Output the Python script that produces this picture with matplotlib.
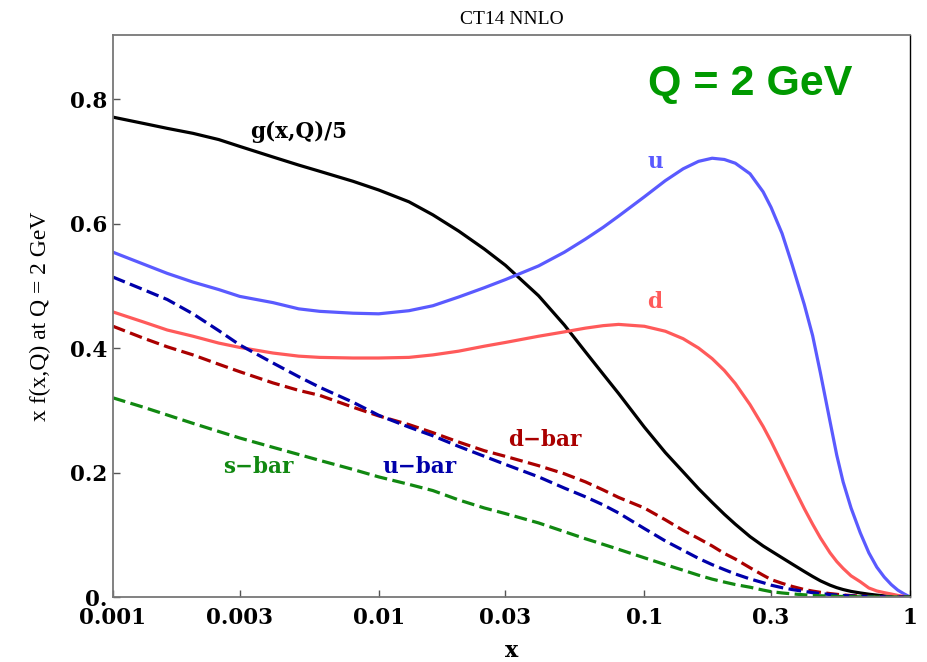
import numpy as np
import matplotlib
matplotlib.use('Agg')
import matplotlib.pyplot as plt

# x grid and curves (Q = 2 GeV)
xs = [0.001, 0.0013, 0.0016, 0.002, 0.0025, 0.003, 0.004, 0.005, 0.006, 0.008,
      0.01, 0.013, 0.016, 0.02, 0.025, 0.03, 0.04, 0.05, 0.06, 0.07,
      0.08, 0.1, 0.12, 0.14, 0.16, 0.18, 0.2, 0.22, 0.25, 0.28,
      0.3, 0.33, 0.36, 0.4, 0.43, 0.46, 0.5, 0.53, 0.56, 0.6,
      0.65, 0.7, 0.75, 0.8, 0.85, 0.9, 0.95, 1.0]

gluon5 = [0.771, 0.761, 0.753, 0.745, 0.735, 0.724, 0.707, 0.694, 0.684, 0.668,
          0.654, 0.635, 0.614, 0.588, 0.559, 0.533, 0.484, 0.437, 0.394, 0.358,
          0.327, 0.273, 0.232, 0.201, 0.174, 0.152, 0.133, 0.117, 0.097, 0.082,
          0.074, 0.063, 0.053, 0.041, 0.033, 0.026, 0.019, 0.015, 0.012, 0.009,
          0.0065, 0.0045, 0.003, 0.0018, 0.001, 0.0004, 0.0001, 0.0]
u = [0.554, 0.535, 0.520, 0.506, 0.494, 0.483, 0.473, 0.463, 0.459, 0.456,
     0.455, 0.460, 0.468, 0.482, 0.497, 0.510, 0.532, 0.554, 0.575, 0.594,
     0.612, 0.643, 0.669, 0.688, 0.700, 0.705, 0.703, 0.697, 0.680, 0.651,
     0.626, 0.584, 0.534, 0.470, 0.420, 0.360, 0.282, 0.228, 0.185, 0.143,
     0.103, 0.071, 0.048, 0.032, 0.020, 0.011, 0.005, 0.0]
d = [0.458, 0.442, 0.429, 0.419, 0.408, 0.401, 0.392, 0.387, 0.385, 0.384,
     0.384, 0.385, 0.389, 0.395, 0.403, 0.409, 0.419, 0.426, 0.432, 0.436,
     0.438, 0.435, 0.427, 0.415, 0.400, 0.383, 0.364, 0.343, 0.309, 0.274,
     0.250, 0.214, 0.181, 0.142, 0.117, 0.095, 0.071, 0.057, 0.046, 0.034,
     0.0245, 0.0145, 0.0097, 0.007, 0.0048, 0.0025, 0.001, 0.0]
ubar = [0.514, 0.494, 0.478, 0.455, 0.428, 0.405, 0.376, 0.354, 0.337, 0.313,
        0.292, 0.273, 0.259, 0.242, 0.226, 0.213, 0.193, 0.175, 0.161, 0.148,
        0.135, 0.110, 0.090, 0.075, 0.062, 0.052, 0.044, 0.037, 0.029, 0.023,
        0.019, 0.015, 0.012, 0.009, 0.007, 0.0055, 0.004, 0.003, 0.0024, 0.0017,
        0.0011, 0.0007, 0.0004, 0.0002, 0.0001, 0.0, 0.0, 0.0]
dbar = [0.435, 0.416, 0.402, 0.389, 0.374, 0.362, 0.344, 0.332, 0.324, 0.305,
        0.291, 0.277, 0.264, 0.249, 0.235, 0.226, 0.211, 0.198, 0.185, 0.172,
        0.160, 0.143, 0.124, 0.107, 0.094, 0.082, 0.070, 0.061, 0.047, 0.035,
        0.028, 0.022, 0.017, 0.012, 0.0095, 0.0075, 0.0055, 0.0043, 0.0033, 0.0023,
        0.0015, 0.0009, 0.0005, 0.0003, 0.0001, 0.0, 0.0, 0.0]
sbar = [0.320, 0.305, 0.2925, 0.279, 0.266, 0.2555, 0.2405, 0.229, 0.2195, 0.205,
        0.193, 0.181, 0.171, 0.156, 0.143, 0.134, 0.119, 0.105, 0.0936, 0.0846,
        0.0766, 0.063, 0.052, 0.043, 0.035, 0.0287, 0.024, 0.020, 0.0157, 0.0111,
        0.0086, 0.0065, 0.005, 0.0035, 0.0027, 0.002, 0.0014, 0.001, 0.0008, 0.0005,
        0.0003, 0.0002, 0.0001, 0.0, 0.0, 0.0, 0.0, 0.0]

xticks = [0.001, 0.003, 0.01, 0.03, 0.1, 0.3, 1]
xticklabels = ['0.001', '0.003', '0.01', '0.03', '0.1', '0.3', '1']
yticks = [0.0, 0.2, 0.4, 0.6, 0.8]
yticklabels = ['0.', '0.2', '0.4', '0.6', '0.8']

serif = ['Liberation Serif', 'DejaVu Serif']
boldserif = ['DejaVu Serif']

fig = plt.figure(figsize=(9.27, 6.62), dpi=100)
ax = fig.add_axes([113/927, 65/662, 797/927, 562/662])

lw = 2.3
ax.plot(xs, gluon5, color='black', lw=lw)
ax.plot(xs, u, color='#5a5aff', lw=lw)
ax.plot(xs, d, color='#ff5a5a', lw=lw)
ax.plot(xs, dbar, color='#aa0000', lw=lw, dashes=(4, 1.7))
ax.plot(xs, ubar, color='#0000aa', lw=lw, dashes=(4, 1.7))
ax.plot(xs, sbar, color='#118811', lw=lw, dashes=(4, 1.7))

ax.set_xscale('log')
ax.set_xlim(0.001, 1)
ax.set_ylim(0, 0.903)
ax.set_xticks(xticks)
ax.set_xticklabels(xticklabels)
ax.minorticks_off()
ax.set_yticks(yticks)
ax.set_yticklabels(yticklabels)
ax.tick_params(direction='in', length=5, width=1, color='#555555')
ax.tick_params(axis='x', pad=7)
ax.tick_params(axis='y', pad=4)
for lab in ax.get_xticklabels() + ax.get_yticklabels():
    lab.set_family(boldserif)
    lab.set_fontweight('bold')
    lab.set_fontsize(15.5)

for side in ['left', 'bottom', 'top']:
    ax.spines[side].set_color('#777777')
    ax.spines[side].set_linewidth(1.3)
ax.spines['right'].set_color('black')
ax.spines['right'].set_linewidth(1.0)

lab_kw = dict(family=boldserif, fontweight='bold', fontsize=15.5, ha='center', va='center')
ax.text(0.005, 0.748, 'g(x,Q)/5', color='black', **lab_kw)
ax.text(0.1096, 0.699, 'u', color='#5a5aff', **lab_kw)
ax.text(0.1096, 0.474, 'd', color='#ff5a5a', **lab_kw)
ax.text(0.0423, 0.252, 'd\u2212bar', color='#aa0000', **lab_kw)
ax.text(0.0143, 0.209, 'u\u2212bar', color='#0000aa', **lab_kw)
ax.text(0.00352, 0.209, 's\u2212bar', color='#118811', **lab_kw)
ax.text(0.25, 0.824, 'Q = 2 GeV', color='#009900', fontsize=31, fontweight='bold',
        family=['Liberation Sans', 'DejaVu Sans'], ha='center', va='center')

ax.set_title('CT14 NNLO', family=serif, fontsize=14, pad=8)
ax.set_xlabel('x', family=boldserif, fontweight='bold', fontsize=16, labelpad=8)
ax.set_ylabel('x f(x,Q) at Q = 2 GeV', family=serif, fontsize=17, labelpad=14)

fig.savefig('out.png', dpi=100)
